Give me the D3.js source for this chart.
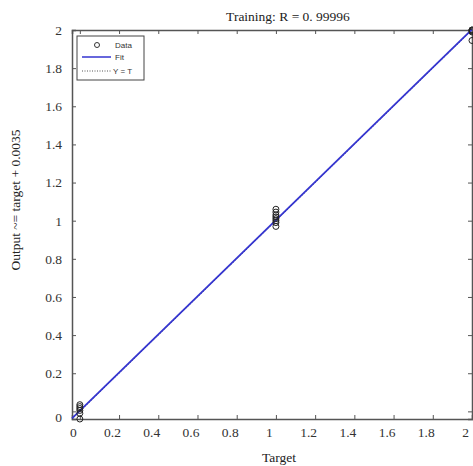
<!DOCTYPE html>
<html><head><meta charset="utf-8">
<script src="https://cdn.jsdelivr.net/npm/d3@7"></script>
<style>body{margin:0;background:#fff}svg{display:block}</style>
</head><body><svg id="c" width="473" height="466"></svg>
<script>
const targets0 = [0, 0, 0, 0, 0, 0];
const outputs0 = [0.035, 0.025, 0.015, 0.005, -0.01, -0.04];
const targets1 = [1, 1, 1, 1, 1, 1, 1, 1];
const outputs1 = [1.06, 1.045, 1.03, 1.02, 1.01, 1.0, 0.99, 0.97];
const targets2 = [2, 2, 2, 2, 2];
const outputs2 = [2.0, 2.0, 1.995, 1.99, 1.945];
const xTicks = [0, 0.2, 0.4, 0.6, 0.8, 1, 1.2, 1.4, 1.6, 1.8, 2];
const yTicks = [0, 0.2, 0.4, 0.6, 0.8, 1, 1.2, 1.4, 1.6, 1.8, 2];
const fitSlope = 1, fitIntercept = 0.0035;
const domain = [-0.04, 2];
const titleText = "Training: R = 0. 99996";
const xLabel = "Target";
const yLabel = "Output ~= target + 0.0035";
const legendLabels = ["Data", "Fit", "Y = T"];

const svg = d3.select("#c");
const L = 72, T = 30, R = 472, B = 419;
const x = d3.scaleLinear().domain(domain).range([L, R]);
const y = d3.scaleLinear().domain(domain).range([B, T]);
const serif = "'Liberation Serif','Times New Roman',serif";
const axCol = "#555";

// axes
const gx = svg.append("g").attr("transform", `translate(0,${B})`)
  .call(d3.axisBottom(x).tickValues(xTicks).tickSize(-4).tickPadding(8).tickFormat(d3.format("")));
const gy = svg.append("g").attr("transform", `translate(${L},0)`)
  .call(d3.axisLeft(y).tickValues(yTicks).tickSize(-4).tickPadding(10).tickFormat(d3.format("")));
const gt = svg.append("g").attr("transform", `translate(0,${T})`)
  .call(d3.axisTop(x).tickValues(xTicks).tickSize(-4).tickFormat(""));
const gr = svg.append("g").attr("transform", `translate(${R},0)`)
  .call(d3.axisRight(y).tickValues(yTicks).tickSize(-4).tickFormat(""));
[gx, gy, gt, gr].forEach(g => {
  g.select(".domain").attr("stroke", axCol).attr("stroke-width", 1.5);
  g.selectAll(".tick line").attr("stroke", axCol);
  g.selectAll("text").attr("font-family", serif).attr("font-size", 13.5).attr("fill", "#333");
});
gx.selectAll("text").attr("dx", -7);
gy.selectAll(".tick").filter(d => d === 0).select("text").attr("dy", "0.75em");

// Y = T line (dotted) and fit line
const lineX = domain;
svg.append("line").attr("x1", x(lineX[0])).attr("y1", y(lineX[0])).attr("x2", x(lineX[1])).attr("y2", y(lineX[1]))
  .attr("stroke", "#000").attr("stroke-dasharray", "1,2").attr("stroke-width", 1);
svg.append("line").attr("x1", x(lineX[0])).attr("y1", y(fitSlope * lineX[0] + fitIntercept))
  .attr("x2", x(lineX[1])).attr("y2", y(fitSlope * lineX[1] + fitIntercept))
  .attr("stroke", "#3535d0").attr("stroke-width", 1.8);

// data circles
const pts = [];
[[targets0, outputs0], [targets1, outputs1], [targets2, outputs2]].forEach(([t, o]) => t.forEach((v, i) => pts.push([v, o[i]])));
svg.append("g").selectAll("circle").data(pts).join("circle")
  .attr("cx", d => x(d[0])).attr("cy", d => y(d[1])).attr("r", 3)
  .attr("fill", "none").attr("stroke", "#222").attr("stroke-width", 1);

// legend
const lg = svg.append("g").attr("transform", "translate(77,36)");
lg.append("rect").attr("width", 67).attr("height", 44).attr("fill", "#fff").attr("stroke", "#444").attr("stroke-width", 1);
const lf = "'Liberation Sans',Arial,sans-serif";
lg.append("circle").attr("cx", 20).attr("cy", 9).attr("r", 2.5).attr("fill", "none").attr("stroke", "#333");
lg.append("line").attr("x1", 5).attr("x2", 34).attr("y1", 21).attr("y2", 21).attr("stroke", "#3535d0").attr("stroke-width", 1.5);
lg.append("line").attr("x1", 5).attr("x2", 34).attr("y1", 35).attr("y2", 35).attr("stroke", "#555").attr("stroke-dasharray", "1,1.5");
legendLabels.forEach((t, i) => lg.append("text").attr("x", i === 2 ? 36 : 38).attr("y", [9, 21, 35][i] + 3)
  .attr("font-family", lf).attr("font-size", 8).attr("fill", "#333").text(t));

// title & labels
svg.append("text").attr("x", 288).attr("y", 21).attr("text-anchor", "middle")
  .attr("font-family", serif).attr("font-size", 13.5).attr("fill", "#222").text(titleText);
svg.append("text").attr("x", 279).attr("y", 462).attr("text-anchor", "middle")
  .attr("font-family", serif).attr("font-size", 13.5).attr("fill", "#222").text(xLabel);
svg.append("text").attr("transform", "translate(20,200) rotate(-90)").attr("text-anchor", "middle")
  .attr("font-family", serif).attr("font-size", 13.5).attr("fill", "#222").text(yLabel);
</script></body></html>
